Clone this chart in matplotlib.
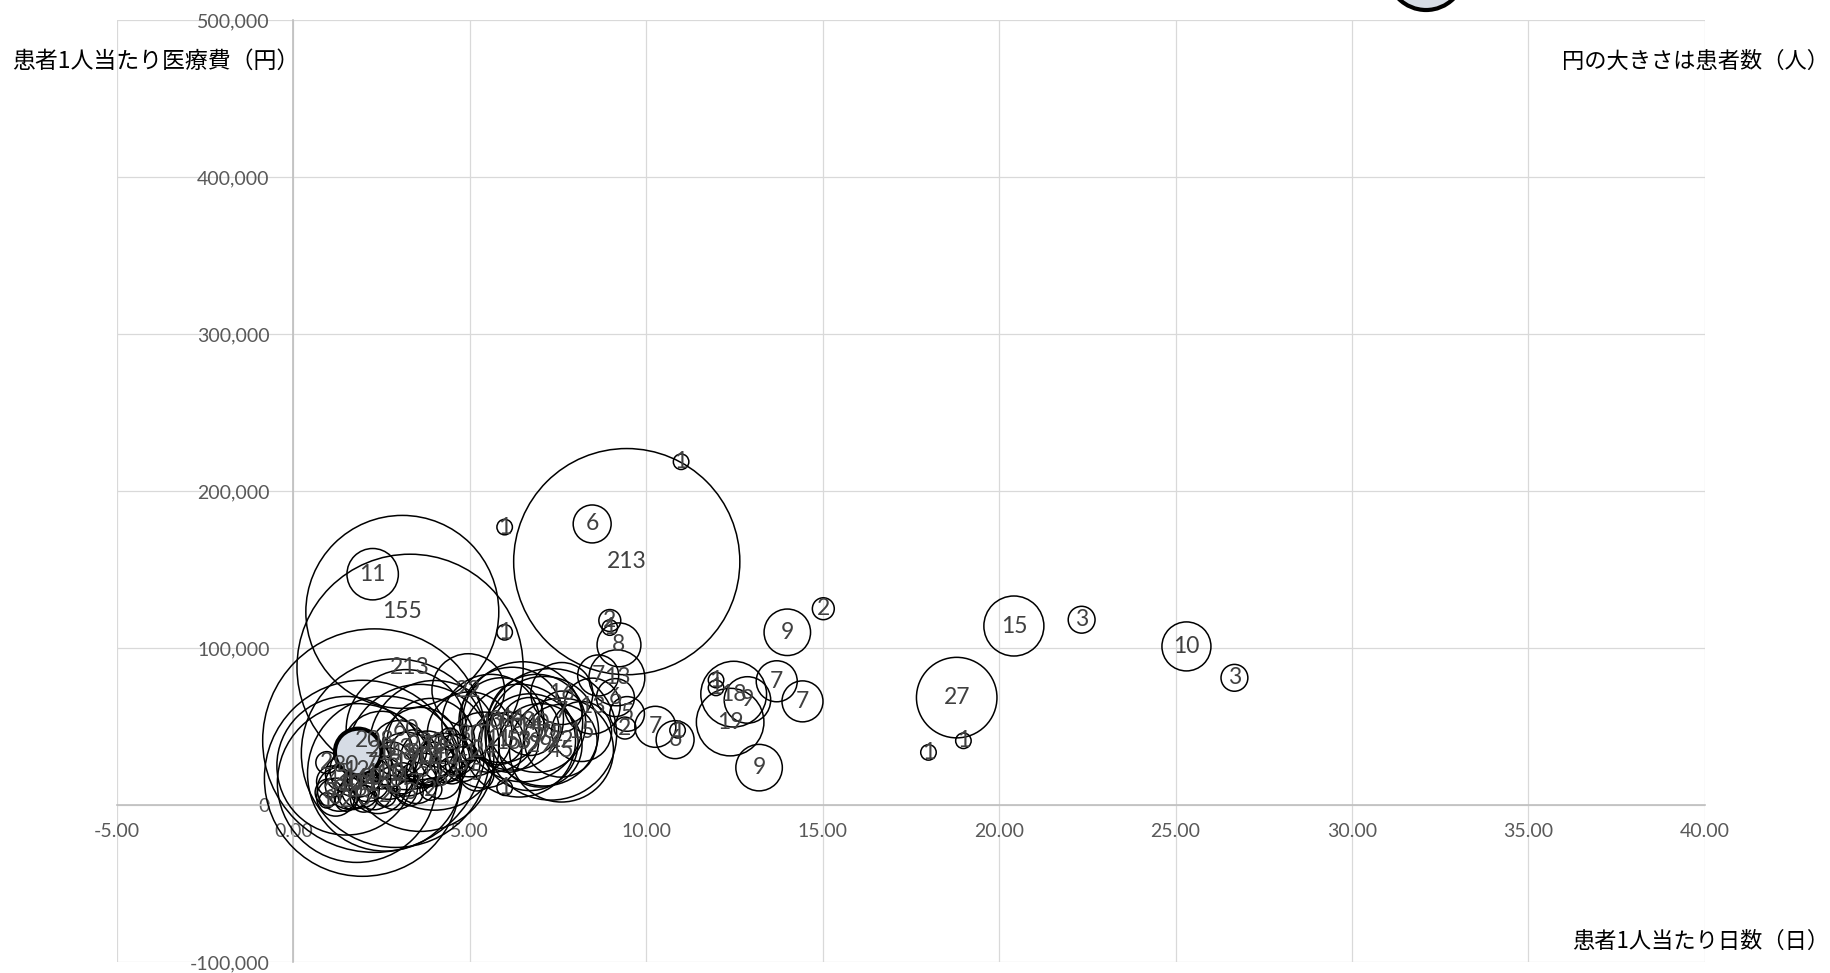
import matplotlib
matplotlib.use("Agg")
import matplotlib.pyplot as plt
from matplotlib.ticker import FuncFormatter, MultipleLocator

# 患者1人当たり日数, 患者1人当たり医療費, 患者数
days = [10.99, 8.47, 9.45, 5.99, 2.25, 3.09, 5.99, 8.97, 8.97, 9.23,
        3.31, 14.00, 15.02, 20.42, 22.34, 25.31, 26.67, 18.80, 18.99, 18.00,
        13.70, 14.43, 13.20, 12.38, 12.48, 12.87, 11.98, 11.98, 10.89, 10.82,
        10.26, 9.46, 9.40, 9.13, 9.17, 8.64, 8.47, 8.17, 7.61, 7.61,
        7.58, 4.96, 5.99,
        5.60, 5.90, 6.20, 6.50, 6.70, 6.90, 7.10, 5.80, 6.10, 6.40,
        6.70, 7.00, 7.30, 7.60, 5.40, 5.20, 5.00,
        2.30, 1.96, 2.90, 1.80, 2.60, 3.60, 4.00, 3.20, 1.50,
        0.95, 0.95, 1.00, 1.10, 1.20, 1.30, 1.40, 1.50, 1.60, 1.70,
        1.80, 1.90, 2.00, 2.10, 2.20, 2.30, 2.40, 2.50, 2.60, 2.70,
        2.80, 2.90, 3.00, 3.10, 3.20, 3.30, 3.40, 3.50, 3.60, 3.70,
        3.80, 3.90, 4.00, 4.10, 4.20, 4.30, 4.43, 4.50, 4.60, 4.80,
        5.00, 3.90]
cost = [218600, 179000, 155000, 177000, 147000, 123000, 110000, 117500, 113000, 102000,
        87700, 110000, 125000, 114000, 118000, 101000, 81000, 68400, 40900, 33500,
        78800, 66000, 23800, 52800, 70600, 66900, 79600, 74600, 47600, 41600,
        49800, 58000, 49000, 68400, 81000, 82500, 63000, 46800, 71000, 59500,
        40900, 73200, 11000,
        52000, 54000, 55000, 53000, 50000, 52000, 47000, 42000, 40000, 41000,
        40000, 38000, 45000, 35000, 35000, 20000, 45000,
        41000, 17000, 33000, 14000, 20000, 30000, 38000, 48000, 25000,
        27000, 3000, 8000, 15000, 5000, 10000, 20000, 3000, 13000, 7000,
        22000, 10000, 4000, 17000, 27000, 8000, 13000, 35000, 6000, 20000,
        28000, 11000, 36000, 17000, 26000, 8000, 33000, 14000, 38000, 22000,
        30000, 10000, 26000, 34000, 16000, 30000, 42000, 22000, 32000, 26000,
        33000, 40000]
patients = [1, 6, 213, 1, 11, 155, 1, 2, 1, 8,
            213, 9, 2, 15, 3, 10, 3, 27, 1, 1,
            7, 7, 9, 19, 18, 9, 1, 1, 1, 6,
            7, 5, 2, 6, 13, 7, 13, 15, 16, 7,
            22, 22, 1,
            40, 30, 44, 60, 14, 40, 50, 11, 15, 53,
            39, 29, 72, 45, 24, 5, 30,
            208, 160, 148, 105, 100, 90, 70, 60, 80,
            2, 1, 3, 4, 6, 8, 5, 2, 10, 4,
            12, 6, 3, 9, 7, 5, 14, 25, 2, 11,
            6, 8, 13, 4, 17, 3, 9, 7, 24, 5,
            12, 2, 8, 4, 6, 10, 2, 3, 7, 5,
            1, 32]

# 強調表示の円
hl_days = [1.84, 32.1]
hl_cost = [33800, 531000]
hl_patients = [9, 25]

size_k = 124.5  # pt^2 per patient

fig = plt.figure(figsize=(18.31, 9.73), dpi=100)
ax = fig.add_axes([0.0638, 0.0113, 0.8673, 0.9682])

ax.set_xlim(-5, 40)
ax.set_ylim(-100000, 500000)
ax.xaxis.set_major_locator(MultipleLocator(5))
ax.yaxis.set_major_locator(MultipleLocator(100000))
ax.xaxis.set_major_formatter(FuncFormatter(lambda v, p: f"{v:.2f}"))
ax.yaxis.set_major_formatter(FuncFormatter(lambda v, p: f"{v:,.0f}"))

ax.grid(True, color="#D9D9D9", lw=0.9)
ax.set_axisbelow(True)
for s in ["top", "right"]:
    ax.spines[s].set_visible(False)
ax.spines["left"].set_position(("data", 0))
ax.spines["bottom"].set_position(("data", 0))
for s in ["left", "bottom"]:
    ax.spines[s].set_color("#BFBFBF")
    ax.spines[s].set_linewidth(1.2)

ax.tick_params(length=0, labelsize=14, labelcolor="#595959")
ax.tick_params(axis="y", pad=17)
ax.tick_params(axis="x", pad=13)
for lab in ax.get_xticklabels() + ax.get_yticklabels():
    lab.set_fontfamily("Lato")

ax.scatter(days, cost, s=[n * size_k for n in patients], facecolors="none",
           edgecolors="black", linewidths=1.1, zorder=3)
ax.scatter(hl_days, hl_cost, s=[n * size_k for n in hl_patients], facecolors="#D6DCE5",
           edgecolors="black", linewidths=3, zorder=4, clip_on=False)

for x, y, n in zip(days, cost, patients):
    ax.text(x, y, str(n), ha="center", va="center", fontsize=16.5,
            color="#404040", family="Lato", zorder=5)

jp = ["Noto Sans CJK JP", "DejaVu Sans"]
fig.text(12 / 1831, 1 - 61 / 973, "患者1人当たり医療費（円）", ha="left", va="center",
         fontsize=16.5, family=jp)
fig.text(1829 / 1831, 1 - 61 / 973, "円の大きさは患者数（人）", ha="right", va="center",
         fontsize=16, family=jp)
fig.text(1829 / 1831, 1 - 941 / 973, "患者1人当たり日数（日）", ha="right", va="center",
         fontsize=16, family=jp)

fig.savefig("out.png", dpi=100)
